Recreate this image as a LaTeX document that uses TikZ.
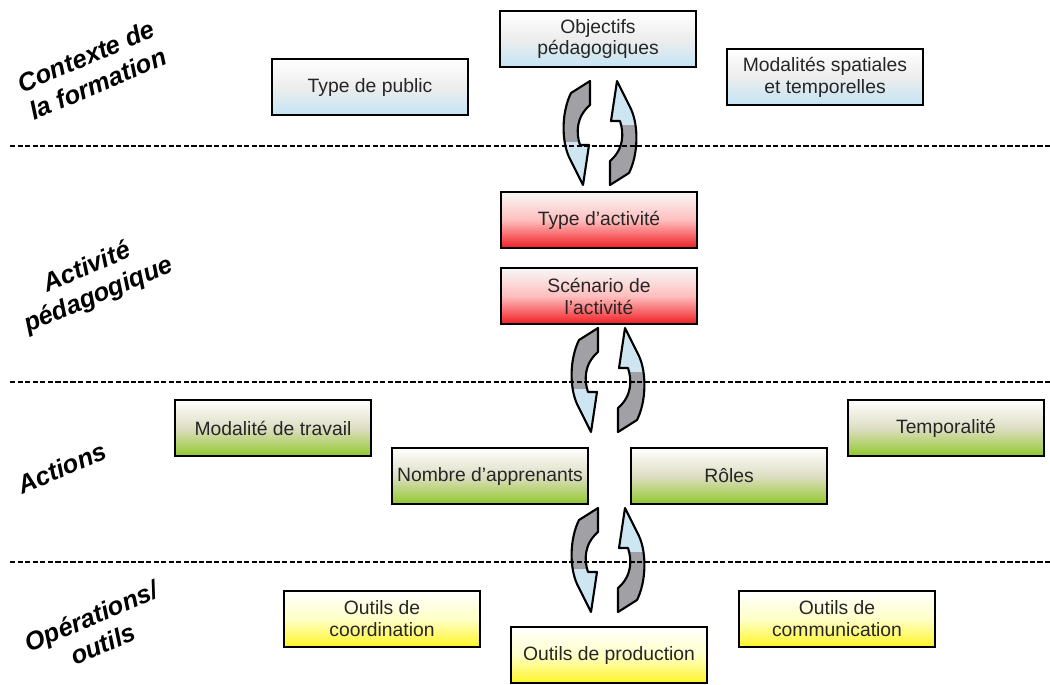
\documentclass[tikz,border=0pt]{standalone}
\usepackage{fontspec}
\setmainfont{Liberation Sans}
\usetikzlibrary{positioning}

\definecolor{skyband}{RGB}{195,228,245}
\definecolor{pinkband}{RGB}{255,190,190}
\definecolor{redband}{RGB}{240,30,35}
\definecolor{sageband}{RGB}{222,222,196}
\definecolor{greenband}{RGB}{145,200,45}
\definecolor{yellowband}{RGB}{255,245,40}
\definecolor{cyclegray}{RGB}{160,160,165}
\definecolor{cycleblue}{RGB}{205,230,242}

\begin{document}
\begin{tikzpicture}[x=0.02cm,y=-0.02cm]
\tikzstyle{box}=[draw=black,line width=1.2pt,minimum width=3.92cm,minimum height=1.12cm,inner sep=2pt,align=center,text=black!85,font=\fontsize{11}{12.5}\selectfont]
\tikzstyle{context box}=[box,top color=white,bottom color=skyband,middle color=gray!14]
\tikzstyle{activity box}=[box,top color=gray!6,bottom color=redband,middle color=pinkband]
\tikzstyle{action box}=[box,top color=white,bottom color=greenband,middle color=sageband]
\tikzstyle{tool box}=[box,top color=white,bottom color=yellowband,middle color=yellow!22]
\tikzstyle{level}=[rotate=23,align=center,font=\fontsize{14.5}{17}\selectfont\bfseries\itshape]
\tikzstyle{separator}=[line width=1.3pt,dash pattern=on 3pt off 1.3pt]

% Outline of one half of a cycle arrow
\def\cyclepath{(-10,-52) -- (-29,-40) .. controls (-38,-22) and (-39,6) .. (-31,24) -- (-17,52) -- (-11,12) -- (-20,12) .. controls (-24,0) and (-24,-16) .. (-10,-28) -- cycle}

\useasboundingbox (0,0) rectangle (1050,684);

% Level labels on the left
\node[level] (contexte) at (92,70) {Contexte de\\la formation};
\node[level] (activite) at (93,282) {Activité\\pédagogique};
\node[level] (actions) at (62,468) {Actions};
\node[level] (operations) at (97,630) {Opérations/\\outils};

% Context of the training
\node[context box] (objectifs) at (598,39) {Objectifs\\pédagogiques};
\node[context box] (public) at (370,87) {Type de public};
\node[context box] (modalites) at (825,77) {Modalités spatiales\\et temporelles};

% Pedagogical activity
\node[activity box] (type) at (599,220) {Type d’activité};
\node[activity box] (scenario) at (599,296) {Scénario de\\l’activité};

% Actions
\node[action box] (travail) at (273,428) {Modalité de travail};
\node[action box] (temporalite) at (946,428) {Temporalité};
\node[action box] (nombre) at (490,476) {Nombre d’apprenants};
\node[action box] (roles) at (729,476) {Rôles};

% Operations and tools
\node[tool box] (coordination) at (382,619) {Outils de\\coordination};
\node[tool box] (communication) at (837,619) {Outils de\\communication};
\node[tool box] (production) at (609,655) {Outils de production};

% Cycle arrows between the levels
\foreach \cx/\cy in {600/133,608/380,608/560}
  \foreach \turn in {0,180}
  {
    \begin{scope}[shift={(\cx,\cy)},rotate=\turn]
      \fill[cycleblue] \cyclepath;
      \begin{scope}
        \clip (-60,-60) rectangle (60,8);
        \fill[cyclegray] \cyclepath;
      \end{scope}
      \draw[line width=1.2pt,line join=round] \cyclepath;
    \end{scope}
  }

% Dashed separators between the levels
\foreach \y in {146,382,562}
  \draw[separator] (10,\y) -- (1050,\y);

\end{tikzpicture}
\end{document}
